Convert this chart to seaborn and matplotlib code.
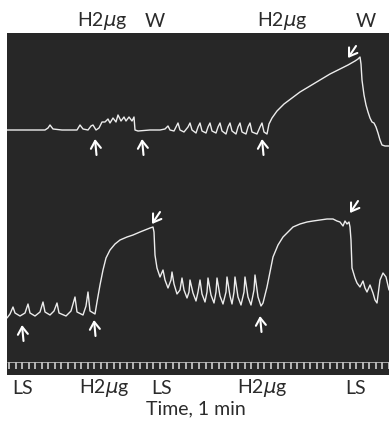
import numpy as np
import pandas as pd
import matplotlib
matplotlib.use("Agg")
import matplotlib.pyplot as plt
import seaborn as sns

# ---- data (read from the recording; x = time position, y = trace deflection, screen-down positive)
upper_trace = [
    (7, 130), (45, 130), (48, 128), (50, 125), (53, 129), (62, 130), (70, 130), (77, 130),
    (80, 125), (83, 129), (88, 130), (91, 126), (93, 125), (96, 130), (99, 128), (102, 122),
    (105, 122), (108, 119), (110, 123), (113, 118), (116, 122), (118, 115), (121, 121),
    (124, 117), (126, 121), (129, 117), (132, 121), (134, 117), (135, 130), (138, 131),
    (150, 130), (160, 130), (165, 129), (168, 126), (170, 130), (174, 131), (176, 127),
    (178, 123), (180, 130), (184, 132), (188, 127), (190, 123), (192, 130), (196, 133),
    (198, 127), (200, 123), (202, 131), (206, 133), (208, 127), (210, 123), (212, 131),
    (216, 133), (218, 127), (220, 123), (222, 131), (226, 134), (228, 127), (230, 123),
    (232, 131), (236, 134), (238, 127), (240, 123), (242, 132), (246, 134), (248, 127),
    (250, 123), (252, 132), (257, 134), (260, 127), (262, 123), (264, 132), (267, 134),
    (269, 124), (272, 118), (277, 111), (284, 104), (292, 98), (300, 92), (310, 86),
    (320, 80), (330, 74), (340, 69), (348, 65), (355, 61), (358, 59), (360, 57), (361, 64),
    (362, 80), (364, 95), (366, 105), (368, 112), (370, 118), (372, 122), (374, 123),
    (376, 127), (378, 133), (380, 140), (382, 145), (385, 146), (389, 146),
]
lower_trace = [
    (7, 318), (10, 314), (13, 307), (15, 313), (20, 316), (25, 313), (28, 304), (30, 313),
    (35, 316), (40, 312), (43, 302), (45, 312), (50, 315), (54, 311), (57, 303), (59, 313),
    (66, 316), (71, 311), (75, 297), (77, 312), (83, 315), (86, 306), (88, 292), (90, 311),
    (95, 314), (97, 302), (100, 285), (103, 270), (106, 258), (110, 250), (115, 244),
    (120, 240), (127, 237), (133, 235), (140, 232), (145, 230), (150, 228), (153, 227),
    (154, 232), (155, 255), (157, 268), (160, 277), (163, 270), (165, 280), (168, 288),
    (171, 280), (172, 272), (174, 284), (177, 294), (180, 290), (182, 278), (184, 290),
    (187, 298), (189, 292), (190, 280), (193, 293), (196, 301), (198, 292), (200, 280),
    (202, 294), (205, 302), (207, 292), (208, 278), (211, 295), (214, 303), (216, 292),
    (217, 278), (220, 296), (223, 304), (226, 292), (227, 277), (230, 296), (232, 304),
    (234, 292), (235, 277), (238, 297), (241, 305), (244, 292), (245, 277), (248, 297),
    (251, 305), (254, 290), (255, 275), (258, 297), (261, 306), (263, 303), (267, 287),
    (273, 257), (278, 245), (283, 237), (293, 227), (300, 224), (307, 222), (313, 221),
    (320, 220), (327, 219), (333, 219), (337, 221), (340, 222), (343, 226), (345, 221),
    (347, 224), (349, 222), (350, 227), (351, 240), (352, 268), (355, 278), (357, 283),
    (360, 287), (363, 281), (365, 288), (367, 292), (370, 285), (373, 293), (375, 300),
    (377, 303), (380, 280), (383, 273), (386, 277), (389, 290),
]

# arrows: tip positions
arrow_up_x = [95, 142, 262, 22, 94, 260]
arrow_up_y = [139, 139, 139, 325, 320, 316]
arrow_down_x = [348, 152, 350]
arrow_down_y = [58, 224, 213]

top_labels = ["H2$\\mu$g", "W", "H2$\\mu$g", "W"]
top_label_x = [102, 155, 282, 366]
bottom_labels = ["LS", "H2$\\mu$g", "LS", "H2$\\mu$g", "LS"]
bottom_label_x = [23, 104, 162, 262, 356]
xlabel = "Time, 1 min"

# ---- figure
sns.set_theme(style="white")
plt.rcParams["font.family"] = ["Lato", "DejaVu Sans"]
plt.rcParams["mathtext.fontset"] = "custom"
plt.rcParams["mathtext.rm"] = "Lato"
plt.rcParams["mathtext.it"] = "DejaVu Sans:italic"

W, H = 389, 423
fig = plt.figure(figsize=(W / 100, H / 100), dpi=100)
fig.patch.set_facecolor("white")
left, right, top, bottom = 7, 389, 33, 375
ax = fig.add_axes([left / W, 1 - bottom / H, (right - left) / W, (bottom - top) / H])
ax.set_facecolor("#272727")
ax.set_xlim(left, right)
ax.set_ylim(bottom, top)

trace_col = "#ececec"
df_u = pd.DataFrame(upper_trace, columns=["x", "y"])
df_l = pd.DataFrame(lower_trace, columns=["x", "y"])
sns.lineplot(data=df_u, x="x", y="y", ax=ax, sort=False, estimator=None, color=trace_col, lw=1.0)
sns.lineplot(data=df_l, x="x", y="y", ax=ax, sort=False, estimator=None, color=trace_col, lw=1.0)

# time marker strip
ticks = np.arange(9, 389, 6.55)
ax.vlines(ticks, 362, 369, color="#dcdcdc", lw=1.1)
ax.hlines(362, left, right, color="#bdbdbd", lw=0.6)

# arrows
astyle = dict(arrowstyle="->,head_length=0.45,head_width=0.3", color="white", lw=1.5,
              mutation_scale=12, shrinkA=0, shrinkB=0)
for x, y in zip(arrow_up_x, arrow_up_y):
    ax.annotate("", xy=(x, y), xytext=(x + 1.5, y + 16), arrowprops=astyle)
for x, y in zip(arrow_down_x, arrow_down_y):
    ax.annotate("", xy=(x, y), xytext=(x + 8, y - 12), arrowprops=astyle)

fs = 14
for t, x in zip(top_labels, top_label_x):
    ax.text(x, 21, t, ha="center", va="center", fontsize=fs, color="#2b2b2b", clip_on=False)
for t, x in zip(bottom_labels, bottom_label_x):
    ax.text(x, 388, t, ha="center", va="center", fontsize=fs, color="#2b2b2b", clip_on=False)
ax.text(196, 409, xlabel, ha="center", va="center", fontsize=fs, color="#2b2b2b", clip_on=False)

ax.set_xlabel("")
ax.set_ylabel("")
ax.set_xticks([])
ax.set_yticks([])
for s in ax.spines.values():
    s.set_visible(False)

fig.savefig("out.png", dpi=100, facecolor="white")
